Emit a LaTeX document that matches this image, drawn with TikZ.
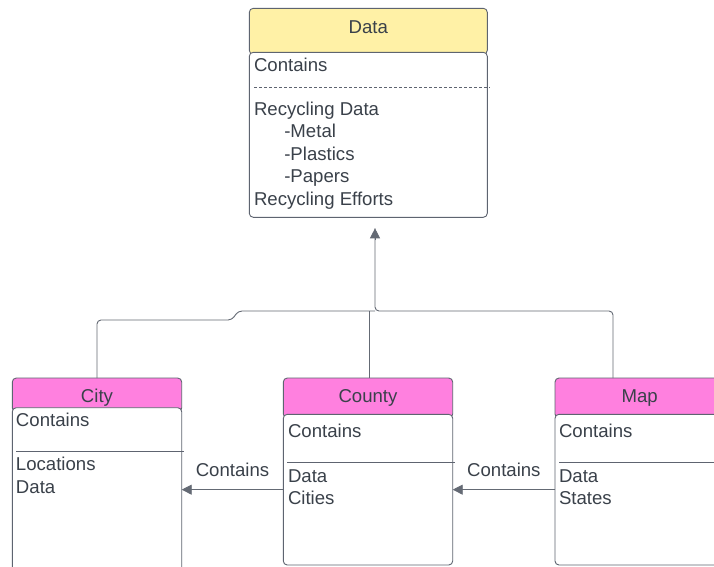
\documentclass[tikz,border=0pt]{standalone}
\usepackage{fontspec}
\setmainfont{Liberation Sans}
\usetikzlibrary{arrows.meta,calc}
\definecolor{hdryellow}{RGB}{255,241,166}
\definecolor{hdrpink}{RGB}{255,128,223}
\definecolor{ink}{RGB}{58,65,74}
\definecolor{edge}{RGB}{94,100,112}
\definecolor{wire}{RGB}{100,106,116}
\tikzset{
  x=1pt, y=-1pt,
  every node/.style={inner sep=0pt, outer sep=0pt, text=ink, font=\fontsize{18.6}{22}\selectfont},
  hdr/.style={draw=edge, line width=0.9pt, rounded corners=4pt, anchor=north west},
  body/.style={draw=edge, line width=0.9pt, rounded corners=4pt, fill=white, anchor=north west},
  txt/.style={anchor=base west},
  ttl/.style={anchor=base},
  rule/.style={draw=edge, line width=0.8pt},
  conn/.style={draw=wire, line width=0.9pt},
  arr/.style={-{Triangle[length=10pt,width=10pt]}, ink},
}
\begin{document}
\begin{tikzpicture}
\useasboundingbox (0,0) rectangle (714,566);
\clip (0,0) rectangle (714,566);
\fill[white] (0,0) rectangle (714,566);

% ---- Data class ----
\node[hdr, fill=hdryellow, minimum width=238pt, minimum height=46pt] (datah) at (249.3,8.3) {};
\node[body, minimum width=238pt, minimum height=165pt] (datab) at (249.3,52.3) {};
\node[ttl] (datat) at (368.3,33.3) {Data};
\node[txt] (d1) at (254,71) {Contains};
\draw[edge, line width=0.8pt, dash pattern=on 3pt off 2pt] (254,87.7) -- (490,87.7);
\node[txt] (d2) at (254,115) {Recycling Data};
\node[txt] (d3) at (284.3,137.5) {-Metal};
\node[txt] (d4) at (284.3,160) {-Plastics};
\node[txt] (d5) at (284.3,182.3) {-Papers};
\node[txt] (d6) at (254,205) {Recycling Efforts};

% ---- City class ----
\node[hdr, fill=hdrpink, minimum width=169.4pt, minimum height=34pt] (cityh) at (12.3,378) {};
\node[body, minimum width=169.4pt, minimum height=166pt] (cityb) at (12.3,407.7) {};
\node[ttl] (cityt) at (97,402.7) {City};
\node[txt] (c1) at (16,426.7) {Contains};
\draw[rule] (16,451) -- (184,451);
\node[txt] (c2) at (16,470.7) {Locations};
\node[txt] (c3) at (16,493.3) {Data};

% ---- County class ----
\node[hdr, fill=hdrpink, minimum width=169.4pt, minimum height=40pt] (countyh) at (283.3,378) {};
\node[body, minimum width=169.4pt, minimum height=150.7pt] (countyb) at (283.3,414.3) {};
\node[ttl] (countyt) at (368,402.3) {County};
\node[txt] (k1) at (288,437.7) {Contains};
\draw[rule] (287,462.3) -- (455,462.3);
\node[txt] (k2) at (288,482.3) {Data};
\node[txt] (k3) at (288,504.3) {Cities};

% ---- Map class ----
\node[hdr, fill=hdrpink, minimum width=169.4pt, minimum height=40pt] (maph) at (555,378) {};
\node[body, minimum width=169.4pt, minimum height=150.7pt] (mapb) at (555,414.3) {};
\node[ttl] (mapt) at (639.7,402.3) {Map};
\node[txt] (m1) at (559,437.7) {Contains};
\draw[rule] (559,462.3) -- (720,462.3);
\node[txt] (m2) at (559,482.3) {Data};
\node[txt] (m3) at (559,504.3) {States};

% ---- tree of connectors up to Data ----
\coordinate (jn) at (375,311);
\coordinate (up) at ($(datab.south)+(6.7,11)$);
\coordinate (mapin) at ($(maph.north west)+(58,0)$);
\coordinate (countyin) at ($(countyh.north west)+(85.7,0)$);
\coordinate (cityin) at ($(cityh.north west)+(84.7,0)$);
\coordinate (step) at (232,320);

\draw[conn, rounded corners=4pt] (mapin) |- (jn) -- (up);
\draw[arr, draw=wire, line width=0.9pt] ($(up)+(0,12)$) -- (up);
\draw[conn] (countyin) -- (countyin |- jn);
\draw[conn, rounded corners=4pt] (cityin) |- (step) -- ($(step)+(6,-9)$) -- (jn);

% ---- containment arrows ----
\draw[conn, arr, draw=wire] (countyb.west) -- (countyb.west -| cityb.east)
  node[midway, anchor=base, yshift=13.5pt] (lab1) {Contains};
\draw[conn, arr, draw=wire] (mapb.west) -- (mapb.west -| countyb.east)
  node[midway, anchor=base, yshift=13.5pt] (lab2) {Contains};
\end{tikzpicture}
\end{document}
